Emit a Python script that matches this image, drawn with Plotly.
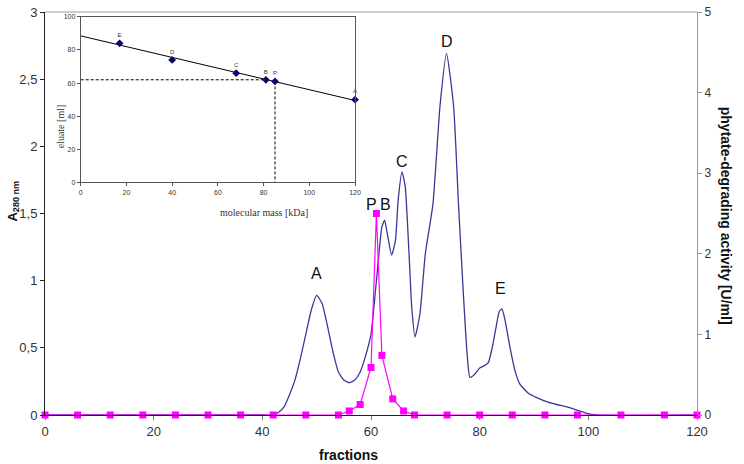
import plotly.graph_objects as go

# ---- main chromatogram (A280, left axis) ----
frac_a = [0, 40, 42, 43, 44, 45, 46, 47, 48, 49, 50, 51, 52, 53, 54, 55, 56, 57, 58, 59, 60,
          61, 62, 62.5, 63, 63.8, 64.5, 65, 65.7, 66.3, 67, 67.5, 68.1, 69, 70, 71.4, 72.7,
          73.9, 75.2, 76.1, 77, 77.7, 78.2, 79, 80, 81, 81.6, 82.3, 83, 83.6, 84.1, 84.6,
          85.6, 86.5, 87.4, 89, 90.5, 92.3, 94, 96, 98, 99.7, 101.5, 120]
a280 = [0, 0, 0, 0.02, 0.06, 0.15, 0.26, 0.42, 0.60, 0.78, 0.89, 0.83, 0.66, 0.47, 0.32, 0.26,
        0.24, 0.26, 0.32, 0.44, 0.60, 1.00, 1.40, 1.45, 1.35, 1.19, 1.30, 1.60, 1.81, 1.70, 1.20,
        0.80, 0.58, 0.75, 1.20, 1.57, 2.30, 2.69, 2.30, 1.57, 0.90, 0.45, 0.28, 0.30, 0.35, 0.37,
        0.39, 0.50, 0.65, 0.77, 0.79, 0.72, 0.50, 0.33, 0.23, 0.16, 0.13, 0.10, 0.08, 0.06,
        0.035, 0.012, 0, 0]

# ---- phytate-degrading activity (right axis) ----
frac_p = [0, 6, 12, 18, 24, 30, 36, 42, 48, 54, 56, 58, 60, 61, 62, 64, 66, 68, 74, 80, 86,
          92, 98, 106, 114, 120]
activity = [0, 0, 0, 0, 0, 0, 0, 0, 0, 0, 0.05, 0.13, 0.59, 2.5, 0.74, 0.2, 0.05, 0, 0, 0, 0,
            0, 0, 0, 0, 0]

# ---- peak labels (main axes coords) ----
peak_names = ["A", "P", "B", "C", "D", "E"]
peak_x = [50, 60, 62.6, 65.7, 74, 83.9]
peak_y = [1.05, 1.57, 1.57, 1.89, 2.78, 0.94]

# ---- inset: calibration ----
mass = [17, 40, 68, 81, 85, 120]
eluate = [84, 74, 66, 62, 61, 50]
cal_names = ["E", "D", "C", "B", "P", "A"]
fit_x = [0, 120]
fit_y = [88.5, 49.5]
hdash_x = [0, 81]
hdash_y = [62, 62]
vdash_x = [85, 85]
vdash_y = [61, 0]

left_ticks = [0, 0.5, 1, 1.5, 2, 2.5, 3]
left_ticktext = ["0", "0,5", "1", "1,5", "2", "2,5", "3"]

FONT = "Arial, Liberation Sans, sans-serif"
SERIF = "Times New Roman, Liberation Serif, serif"
BLUE = "#38389a"
MAG = "#ff00ff"

fig = go.Figure()
fig.add_trace(go.Scatter(x=frac_a, y=a280, mode="lines",
                         line=dict(color=BLUE, width=1.3, shape="spline", smoothing=0.5),
                         xaxis="x", yaxis="y", showlegend=False))
fig.add_trace(go.Scatter(x=frac_p, y=activity, mode="lines+markers",
                         line=dict(color=MAG, width=1.2),
                         marker=dict(symbol="square", size=7, color=MAG),
                         xaxis="x", yaxis="y2", showlegend=False, cliponaxis=False))

# inset traces
fig.add_trace(go.Scatter(x=fit_x, y=fit_y, mode="lines", line=dict(color="black", width=1),
                         xaxis="x2", yaxis="y3", showlegend=False))
fig.add_trace(go.Scatter(x=hdash_x, y=hdash_y, mode="lines",
                         line=dict(color="black", width=1, dash="3px,2px"),
                         xaxis="x2", yaxis="y3", showlegend=False))
fig.add_trace(go.Scatter(x=vdash_x, y=vdash_y, mode="lines",
                         line=dict(color="black", width=1, dash="3px,2px"),
                         xaxis="x2", yaxis="y3", showlegend=False))
fig.add_trace(go.Scatter(x=mass, y=eluate, mode="markers+text", text=cal_names,
                         textposition="top center",
                         textfont=dict(size=6, color="#333", family=FONT),
                         marker=dict(symbol="diamond", size=6, color="#0a0a6e"),
                         xaxis="x2", yaxis="y3", showlegend=False, cliponaxis=False))

ann = []
for n, x, y in zip(peak_names, peak_x, peak_y):
    ann.append(dict(x=x, y=y, xref="x", yref="y", text=n, showarrow=False,
                    font=dict(size=16, family=FONT, color="#111")))

ann += [
    dict(x=-0.065, y=0.53, xref="paper", yref="paper", text="<b>A<sub>280 nm</sub></b>",
         textangle=-90, showarrow=False, font=dict(size=13, family=FONT, color="#111")),
    dict(x=1.061, y=0.495, xref="paper", yref="paper",
         text="<b>phytate-degrading activity [U/ml]</b>", textangle=90, showarrow=False,
         font=dict(size=14, family=FONT, color="#111")),
    dict(x=0.466, y=-0.074, xref="paper", yref="paper", yanchor="top",
         text="<b>fractions</b>", showarrow=False,
         font=dict(size=14, family=FONT, color="#111")),
    dict(x=0.266, y=0.503, xref="paper", yref="paper", text="molecular mass [kDa]",
         showarrow=False, font=dict(size=10, family=SERIF, color="#333")),
    dict(x=0.0125, y=0.775, xref="paper", yref="paper", text="eluate [ml]", textangle=-90,
         showarrow=False, font=dict(size=10, family=SERIF, color="#333")),
]

fig.update_layout(
    width=744, height=464,
    margin=dict(l=45, r=47, t=5, b=49),
    paper_bgcolor="white", plot_bgcolor="white",
    font=dict(family=FONT, color="#333"),
    xaxis=dict(domain=[0, 1], range=[0, 120], dtick=20, ticks="outside", ticklen=4,
               tickcolor="#777", showline=True, linecolor="#222", linewidth=1,
               showgrid=False, zeroline=False, tickfont=dict(size=13, color="#333"),
               anchor="y"),
    yaxis=dict(domain=[0, 1], range=[0, 3], tickvals=left_ticks, ticktext=left_ticktext,
               ticks="outside", ticklen=4, tickcolor="#222", showline=True,
               linecolor="#222", linewidth=1, showgrid=False, zeroline=False,
               tickfont=dict(size=13, color="#333"), anchor="x"),
    yaxis2=dict(range=[0, 5], dtick=1, overlaying="y", side="right", anchor="x",
                ticks="outside", ticklen=4, tickcolor="#999", showline=True,
                linecolor="#999", linewidth=1, showgrid=False, zeroline=False,
                tickfont=dict(size=12, color="#333")),
    xaxis2=dict(domain=[0.0548, 0.4755], range=[0, 120], dtick=20, anchor="y3",
                ticks="outside", ticklen=3, tickcolor="#555", showline=True, mirror=True,
                linecolor="#555", linewidth=1, showgrid=False, zeroline=False,
                tickfont=dict(size=7, color="#333")),
    yaxis3=dict(domain=[0.577, 0.988], range=[0, 100], dtick=20, anchor="x2",
                ticks="outside", ticklen=3, tickcolor="#555", showline=True, mirror=True,
                linecolor="#555", linewidth=1, showgrid=False, zeroline=False,
                tickfont=dict(size=7, color="#333")),
    annotations=ann,
    shapes=[dict(type="line", xref="paper", yref="paper", x0=0, x1=1, y0=1, y1=1,
                 line=dict(color="#999", width=1))],
)

fig.write_html("out.html")
